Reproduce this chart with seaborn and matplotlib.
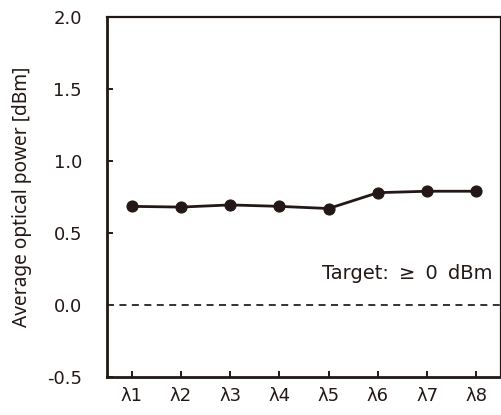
import matplotlib
matplotlib.use("Agg")
import matplotlib.pyplot as plt
import seaborn as sns
import pandas as pd

channels = ["λ1", "λ2", "λ3", "λ4", "λ5", "λ6", "λ7", "λ8"]
power_dbm = [0.685, 0.68, 0.695, 0.685, 0.67, 0.78, 0.79, 0.79]
target_dbm = 0.0
y_ticks = [-0.5, 0.0, 0.5, 1.0, 1.5, 2.0]
y_tick_labels = ["-0.5", "0.0", "0.5", "1.0", "1.5", "2.0"]

ink = "#231815"
text_color = "#231815"

sns.set_theme(style="white")
plt.rcParams["font.family"] = ["DejaVu Sans"]

df = pd.DataFrame({"pos": range(1, len(channels) + 1), "power": power_dbm})

fig = plt.figure(figsize=(5.02, 4.15), dpi=100)
ax = fig.add_axes([107 / 502, 38 / 415, 394 / 502, 360 / 415])

# target threshold
ax.axhline(target_dbm, color="#333333", linestyle=(0, (3.6, 2.8)), linewidth=1.4, zorder=1)

sns.lineplot(data=df, x="pos", y="power", ax=ax, color=ink, linewidth=2.0,
             marker="o", markersize=8, markeredgecolor=ink, markerfacecolor=ink, zorder=3)

ax.set_xlim(0.5, len(channels) + 0.5)
ax.set_ylim(-0.5, 2.0)
ax.set_xticks(range(1, len(channels) + 1))
ax.set_xticklabels(channels)
ax.set_yticks(y_ticks)
ax.set_yticklabels(y_tick_labels)
ax.set_xlabel("")
ax.set_ylabel("Average optical power [dBm]", fontsize=13.8, color=text_color,
              labelpad=11, family=["Noto Sans", "DejaVu Sans"])

ax.tick_params(axis="both", direction="in", length=4, width=1.4, color=ink,
               labelsize=13, labelcolor=text_color)
ax.tick_params(axis="y", pad=18, left=True)
ax.tick_params(axis="x", pad=7, bottom=True)

for side in ["left", "bottom"]:
    ax.spines[side].set_color(ink)
    ax.spines[side].set_linewidth(2.0)
for side in ["top", "right"]:
    ax.spines[side].set_color(ink)
    ax.spines[side].set_linewidth(1.6)

ax.text(8.32, 0.22, "Target:\u2009 ≥ \u20090 \u2009dBm", ha="right", va="center",
        fontsize=14, color=text_color)

fig.savefig("out.png", dpi=100)
